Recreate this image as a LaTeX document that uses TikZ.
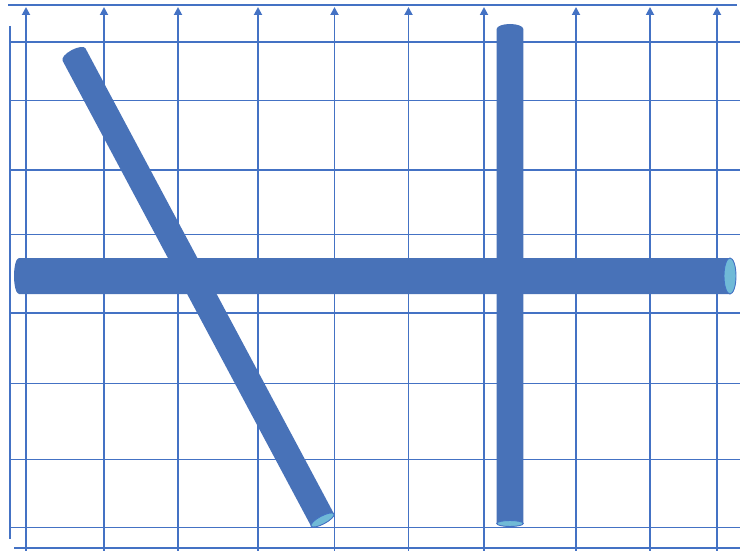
\documentclass[tikz,border=0pt]{standalone}
\usetikzlibrary{arrows.meta}
\definecolor{gridblue}{RGB}{68,114,196}
\definecolor{tubeblue}{RGB}{72,114,184}
\definecolor{faceblue}{RGB}{112,186,215}
\tikzset{
  gridline/.style={draw=gridblue,line width=1.8pt},
  arrowline/.style={gridline,-{Triangle[width=8pt,length=8pt]}},
  tube/.style={fill=tubeblue},
  tubeface/.style={fill=faceblue,draw=gridblue,line width=0.9pt}
}
% #1,#2 back centre; #3 angle; #4 length; #5 radius; #6 back cap depth; #7 face depth
\newcommand\mycylinder[7]{%
  \begin{scope}[shift={(#1,#2)},y=1pt,rotate=#3]
    \fill[tube] (0,#5) -- (#4,#5)
      arc[start angle=90,end angle=-90,x radius=#7,y radius=#5]
      -- (0,-#5)
      arc[start angle=270,end angle=90,x radius=#6,y radius=#5] -- cycle;
    \draw[tubeface] (#4,0) ellipse[x radius=#7,y radius=#5];
  \end{scope}}
\begin{document}
\begin{tikzpicture}[x=1pt,y=-1pt]
\useasboundingbox (0,0) rectangle (740,551);
\clip (0,0) rectangle (740,551);
% frame lines
\draw[gridline] (8,5) -- (737,5);
\draw[gridline] (10,26) -- (10,539);
\draw[gridline] (14,548) -- (745,548);
% horizontal grid lines with arrows (cut by the edge)
\foreach \yy in {42,100.5,170,234.5,313,383.5,459.5,527.5}
  \draw[arrowline] (10,\yy) -- (749,\yy);
% vertical grid lines with arrows at the top
\foreach \xx in {26,104,178,258,334.5,408.5,484,576,650,717}
  \draw[arrowline] (\xx,555) -- (\xx,7);
% cylinders
\mycylinder{74}{54.5}{-61.9}{527.7}{13}{5}{4}
\mycylinder{19}{276}{0}{711}{18}{5}{6}
\mycylinder{510}{29}{-90}{494.5}{13.3}{5}{3}
\end{tikzpicture}
\end{document}
